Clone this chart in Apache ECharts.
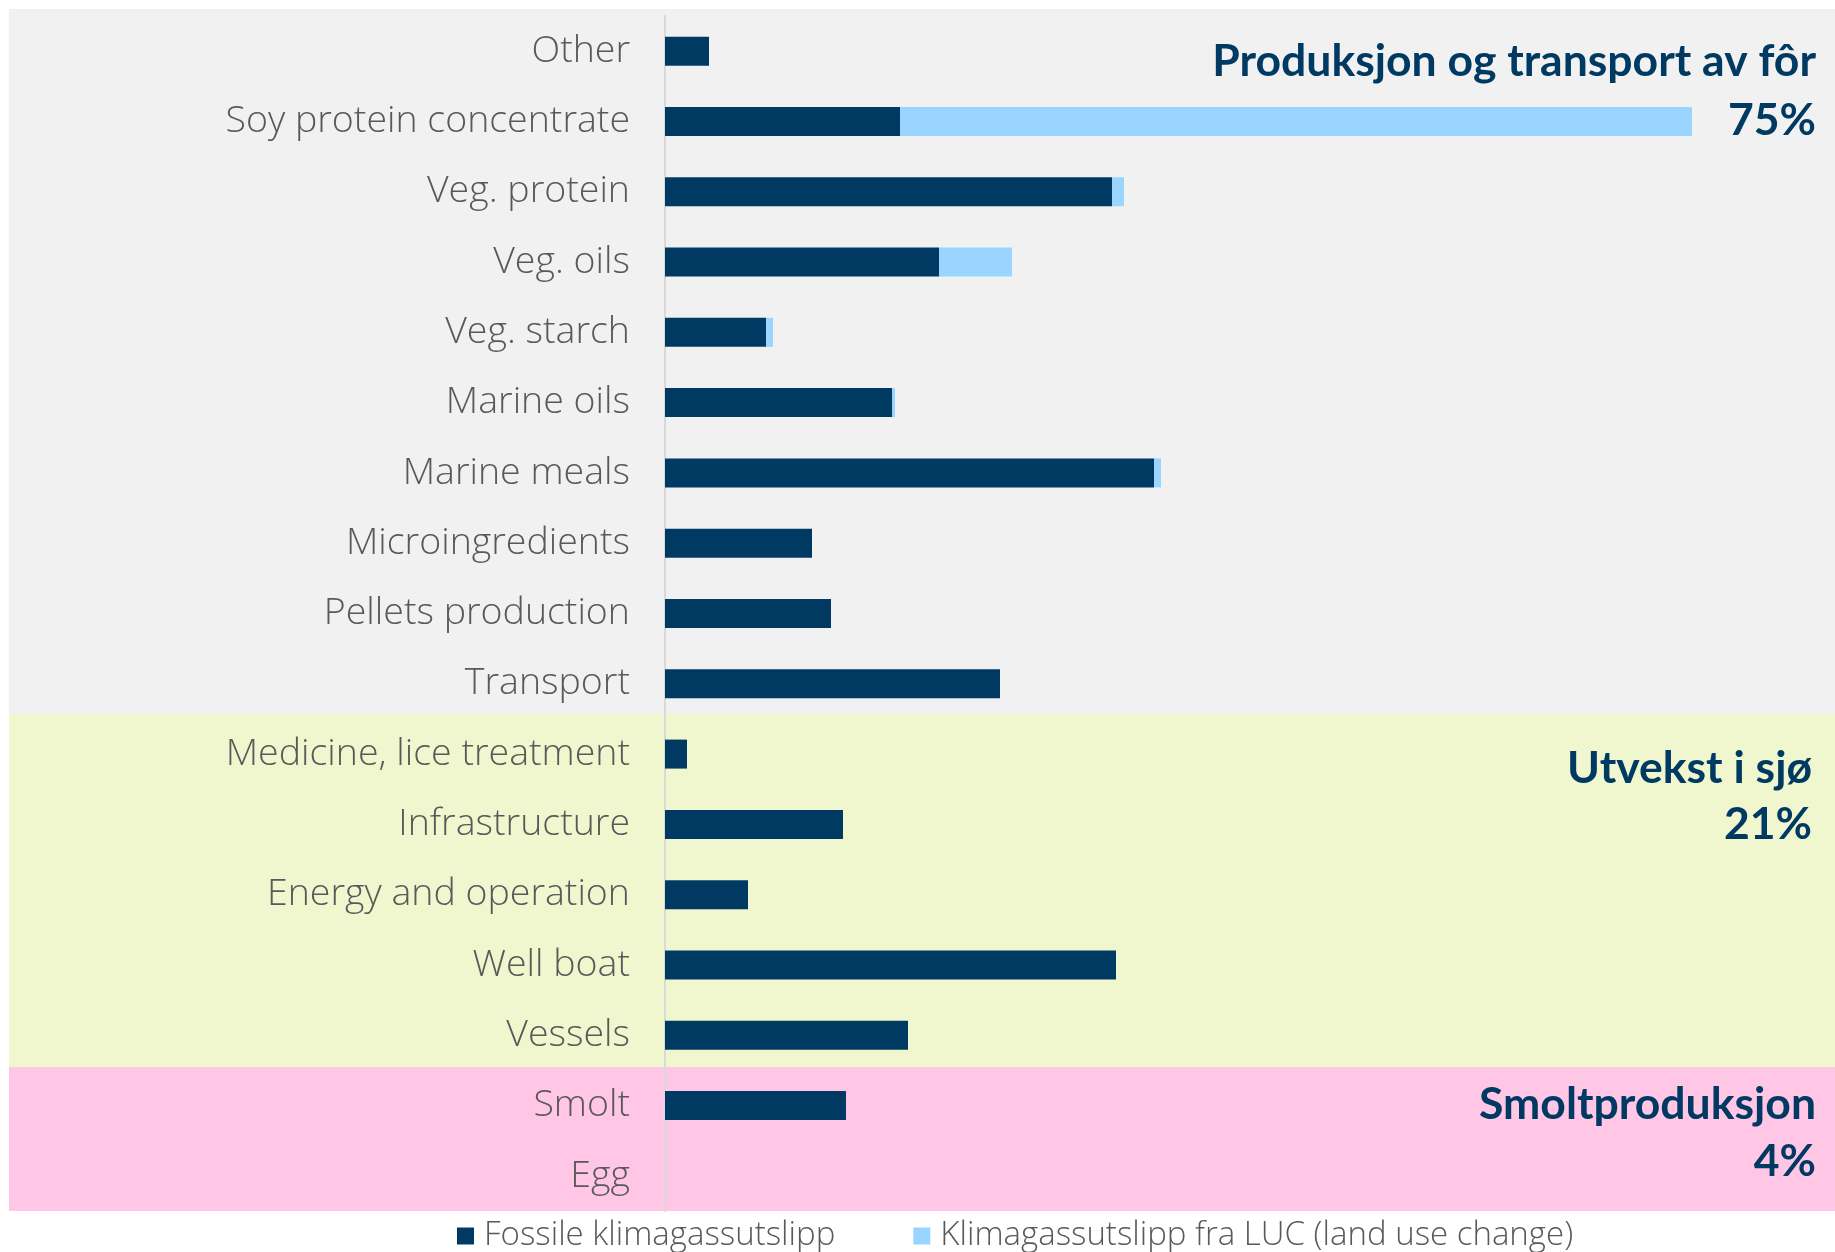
<!DOCTYPE html>
<html>
<head>
<meta charset="utf-8">
<script src="https://cdn.jsdelivr.net/npm/echarts@6/dist/echarts.min.js"></script>
<style>
  html, body { margin: 0; padding: 0; background: #fff; }
  #chart { width: 1835px; height: 1252px; }
</style>
</head>
<body>
<div id="chart"></div>
<script>
// kategorier (ovenfra og ned)
const categories = [
    'Other', 'Soy protein concentrate', 'Veg. protein', 'Veg. oils', 'Veg. starch',
    'Marine oils', 'Marine meals', 'Microingredients', 'Pellets production', 'Transport',
    'Medicine, lice treatment', 'Infrastructure', 'Energy and operation', 'Well boat', 'Vessels',
    'Smolt', 'Egg'
];

// utslipp (relative enheter)
const fossil = [0.44, 2.35, 4.47, 2.74, 1.01, 2.27, 4.89, 1.47, 1.66, 3.35, 0.22, 1.78, 0.83, 4.51, 2.43, 1.81, 0];
const luc = [0, 7.92, 0.12, 0.73, 0.07, 0.03, 0.07, 0, 0, 0, 0, 0, 0, 0, 0, 0, 0];

const seriesNames = ['Fossile klimagassutslipp', 'Klimagassutslipp fra LUC (land use change)'];

// grupper med andel
const groupTitles = ['Produksjon og transport av fôr', 'Utvekst i sjø', 'Smoltproduksjon'];
const groupShares = ['75%', '21%', '4%'];

const navy = '#003a63';
const lightBlue = '#99d5ff';
const labelFont = 'Open Sans';

const chart = echarts.init(document.getElementById('chart'));

// bakgrunnsfelt og tekst for hver gruppe
const bands = [
    { y: 9, h: 705, color: '#f1f1f1' },
    { y: 714, h: 353, color: '#f0f7cf' },
    { y: 1067, h: 144, color: '#ffc6e6' }
];
const labelY = [[62, 121], [769, 825], [1105, 1162]];

const graphics = [];
bands.forEach(b => {
    graphics.push({ type: 'rect', z: -10, shape: { x: 9, y: b.y, width: 1826, height: b.h }, style: { fill: b.color } });
});
groupTitles.forEach((t, i) => {
    const x = i === 1 ? 1812 : 1816;
    graphics.push({ type: 'text', z: 10, x: x, y: labelY[i][0],
        style: { text: t, align: 'right', verticalAlign: 'middle', fill: navy, font: 'bold 44.5px Lato' } });
    graphics.push({ type: 'text', z: 10, x: x, y: labelY[i][1],
        style: { text: groupShares[i], align: 'right', verticalAlign: 'middle', fill: navy, font: 'bold 44.5px Lato' } });
});

chart.setOption({
    animation: false,
    graphic: graphics,
    grid: { left: 665, right: 0, top: 16, bottom: 41, containLabel: false },
    legend: {
        left: 452,
        top: 1213,
        itemWidth: 17,
        itemHeight: 17,
        itemGap: 78,
        icon: 'rect',
        data: seriesNames,
        textStyle: { fontFamily: labelFont, fontWeight: 300, fontSize: 33, lineHeight: 36, color: '#595959', padding: [0, 0, 0, 5] }
    },
    xAxis: { type: 'value', min: 0, max: 11.7, show: false },
    yAxis: {
        type: 'category',
        inverse: true,
        data: categories,
        axisLine: { show: true, lineStyle: { color: '#d9d9d9', width: 2 } },
        axisTick: { show: false },
        splitLine: { show: false },
        axisLabel: { margin: 35, padding: [8, 0, 0, 0], fontFamily: labelFont, fontWeight: 300, fontSize: 37.5, color: '#595959' }
    },
    series: [
        { name: seriesNames[0], type: 'bar', stack: 'co2', data: fossil, barWidth: 29, itemStyle: { color: navy } },
        { name: seriesNames[1], type: 'bar', stack: 'co2', data: luc, barWidth: 29, itemStyle: { color: lightBlue } }
    ]
});

window.addEventListener('resize', () => chart.resize());
</script>
</body>
</html>
